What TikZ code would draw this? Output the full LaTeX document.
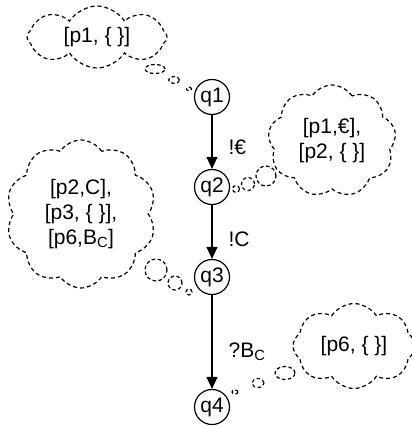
\documentclass[tikz,border=0pt]{standalone}
\usepackage{fontspec}
\setmainfont{Liberation Sans}
\usetikzlibrary{shapes.symbols,shapes.geometric,arrows.meta}
\begin{document}
\begin{tikzpicture}[x=1pt,y=-1pt,
  state/.style={circle,draw,line width=1.2pt,minimum size=35pt,inner sep=0pt,font=\fontsize{21}{24}\selectfont},
  thought/.style={cloud,draw,dash pattern=on 4pt off 3pt,line width=1.2pt,cloud puffs=9,cloud puff arc=115,cloud ignores aspect,inner sep=0pt,align=center,font=\fontsize{21}{25}\selectfont},
  bubble/.style={draw,dash pattern=on 3.5pt off 2.5pt,line width=1.2pt},
  lbl/.style={font=\fontsize{21}{24}\selectfont,anchor=west,inner sep=0pt},
  edge/.style={-{Triangle[length=12pt,width=11pt]},line width=1.3pt}]
\useasboundingbox (0,0) rectangle (411,427);
\node[state] (q1) at (212,97) {q1};
\node[state] (q2) at (212,187) {q2};
\node[state] (q3) at (212,277) {q3};
\node[state] (q4) at (212,407) {q4};
\draw[edge] (q1) -- node[lbl,pos=0.6,xshift=16pt] (l1) {!€} (q2);
\draw[edge] (q2) -- node[lbl,pos=0.63,xshift=16pt] (l2) {!C} (q3);
\draw[edge] (q3) -- node[lbl,pos=0.6,xshift=16pt] (l3) {?B\textsubscript{C}} (q4);
% thought clouds
\node[thought,cloud puffs=8,minimum width=140pt,minimum height=62pt] (c1) at (97,37) {[p1, \{ \}]};
\node[thought,minimum width=128pt,minimum height=112pt] (c2) at (332,141) {[p1,€],\\\relax [p2, \{ \}]};
\node[thought,cloud puffs=10,minimum width=150pt,minimum height=148pt] (c3) at (81,214) {[p2,C],\\\relax [p3, \{ \}],\\\relax [p6,B\textsubscript{C}]};
\node[thought,cloud puffs=8,minimum width=122pt,minimum height=85pt] (c4) at (354,346) {[p6, \{ \}]};
% thought bubbles
\draw[bubble] (155,69) ellipse [x radius=10pt,y radius=4.5pt];
\draw[bubble] (174,80) ellipse [x radius=5.5pt,y radius=3.5pt];
\draw[bubble] (189,89) ellipse [x radius=2.5pt,y radius=1.8pt];
\draw[bubble] (266,176) circle [radius=10pt];
\draw[bubble] (248,184) circle [radius=6.5pt];
\draw[bubble] (236,189) circle [radius=3.5pt];
\draw[bubble] (156,270) circle [radius=11pt];
\draw[bubble] (175,283) circle [radius=7pt];
\draw[bubble] (189,292) circle [radius=3pt];
\draw[bubble] (285,373) ellipse [x radius=10pt,y radius=6.5pt];
\draw[bubble] (258,383) ellipse [x radius=6pt,y radius=4.5pt];
\draw[bubble] (235,392) ellipse [x radius=3pt,y radius=2pt];
\end{tikzpicture}
\end{document}
